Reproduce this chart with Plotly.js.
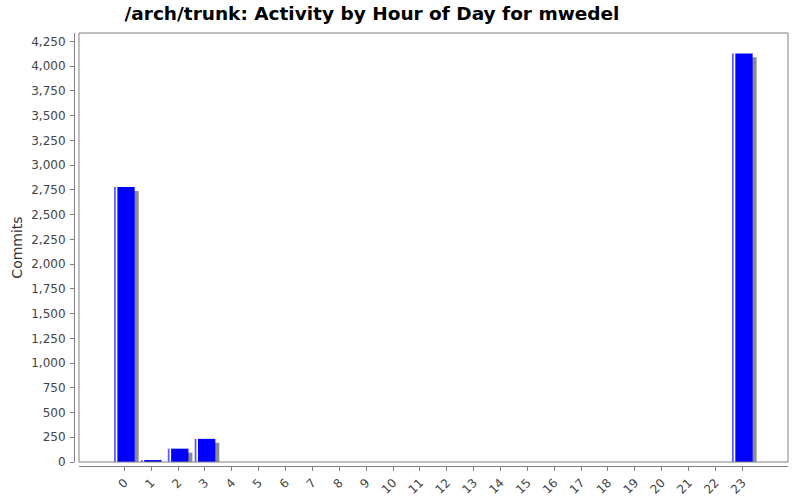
<!DOCTYPE html>
<html>
<head>
<meta charset="utf-8">
<script src="https://cdn.plot.ly/plotly-3.0.1.min.js"></script>
<style>
  html, body { margin: 0; padding: 0; background: #fff; }
  #chart { width: 800px; height: 500px; }
</style>
</head>
<body>
<div id="chart"></div>
<script>
// -----------------------
// Data
// -----------------------
const hours = [0, 1, 2, 3, 4, 5, 6, 7, 8, 9, 10, 11, 12, 13, 14, 15, 16, 17, 18, 19, 20, 21, 22, 23];
const hourLabels = hours.map(h => String(h));
const commits = [2780, 20, 135, 234, 0, 0, 0, 0, 0, 0, 0, 0, 0, 0, 0, 0, 0, 0, 0, 0, 0, 0, 0, 4130];

const FONT = "DejaVu Sans, sans-serif";

// shadow drawn a little right and down, then a thin highlight strip, then the bar
const shadow = {
  x: hours, y: commits, type: "bar",
  base: -40, offset: -0.235, width: 0.767,
  marker: { color: "#8c8c8c", line: { width: 0 } },
  hoverinfo: "skip", showlegend: false
};
const strip = {
  x: hours, y: commits, type: "bar",
  offset: -0.385, width: 0.065,
  marker: { color: "#5a5aff", line: { width: 0 } },
  hoverinfo: "skip", showlegend: false
};
const main = {
  x: hours, y: commits, type: "bar",
  offset: -0.261, width: 0.645,
  marker: { color: "#0000ff", line: { width: 0 } },
  showlegend: false
};

const layout = {
  width: 800,
  height: 500,
  margin: { l: 74, r: 12, t: 33, b: 34 },
  paper_bgcolor: "#ffffff",
  plot_bgcolor: "#ffffff",
  barmode: "overlay",
  font: { family: FONT, size: 12, color: "#444" },
  title: {
    text: "/arch/trunk: Activity by Hour of Day for mwedel",
    font: { family: FONT, size: 18.5, color: "#000", weight: "bold" },
    x: 0.465, xref: "container", xanchor: "center",
    y: 0.972, yref: "container", yanchor: "middle"
  },
  xaxis: {
    domain: [0.007, 1],
    anchor: "free", position: 0,
    range: [-1.69, 24.7],
    tickmode: "array", tickvals: hours, ticktext: hourLabels,
    tickangle: -45,
    ticks: "outside", ticklen: 4, tickcolor: "#808080",
    showline: true, linecolor: "#808080", linewidth: 1,
    showgrid: false, zeroline: false,
    tickfont: { family: FONT, size: 12, color: "#444" }
  },
  yaxis: {
    domain: [0.0092, 1],
    anchor: "free", position: 0,
    range: [0, 4336],
    dtick: 250, tickformat: ",d",
    ticks: "outside", ticklen: 4, tickcolor: "#808080",
    ticklabelstandoff: 2,
    showline: true, linecolor: "#808080", linewidth: 1,
    showgrid: false, zeroline: false,
    tickfont: { family: FONT, size: 12, color: "#444" },
    title: { text: "Commits", font: { family: FONT, size: 14, color: "#333" }, standoff: 4 }
  },
  shapes: [{
    type: "rect", xref: "x domain", yref: "y domain",
    x0: 0, x1: 1, y0: 0, y1: 1,
    line: { color: "#808080", width: 1 }
  }]
};

Plotly.newPlot("chart", [shadow, strip, main], layout, { displayModeBar: false, staticPlot: true });
</script>
</body>
</html>
